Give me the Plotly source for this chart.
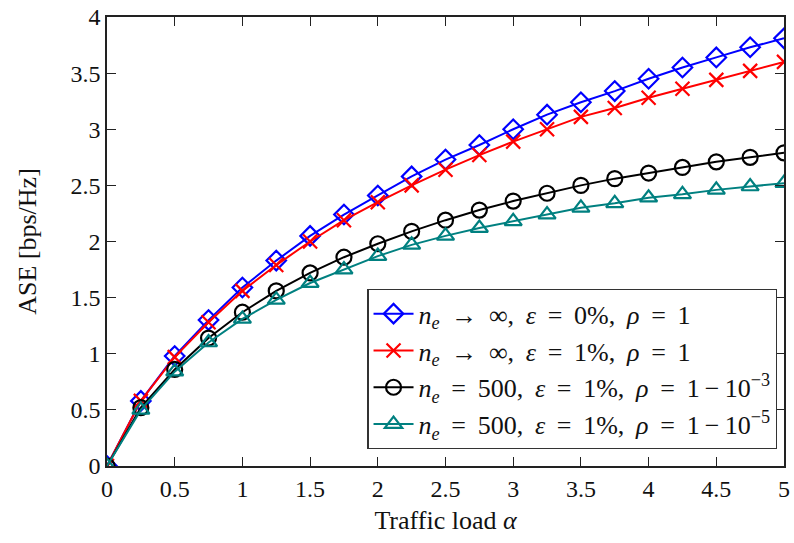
import plotly.graph_objects as go

# Traffic load values (alpha)
alpha = [0, 0.25, 0.5, 0.75, 1, 1.25, 1.5, 1.75, 2, 2.25, 2.5, 2.75, 3,
         3.25, 3.5, 3.75, 4, 4.25, 4.5, 4.75, 5]

# ASE [bps/Hz] for each configuration
ase_inf_eps0 = [0, 0.58, 0.98, 1.30, 1.59, 1.83, 2.05, 2.24, 2.41, 2.58, 2.73,
                2.86, 3.00, 3.13, 3.24, 3.34, 3.45, 3.55, 3.64, 3.73, 3.81]
ase_inf_eps1 = [0, 0.58, 0.97, 1.28, 1.56, 1.79, 2.00, 2.19, 2.35, 2.50, 2.64,
                2.77, 2.89, 3.00, 3.11, 3.19, 3.28, 3.36, 3.44, 3.52, 3.60]
ase_500_r3 = [0, 0.52, 0.86, 1.14, 1.37, 1.56, 1.72, 1.86, 1.98, 2.09, 2.19,
              2.28, 2.36, 2.43, 2.50, 2.56, 2.61, 2.66, 2.71, 2.75, 2.79]
ase_500_r5 = [0, 0.50, 0.84, 1.10, 1.31, 1.48, 1.63, 1.75, 1.87, 1.97, 2.05,
              2.12, 2.18, 2.24, 2.30, 2.34, 2.39, 2.42, 2.46, 2.49, 2.52]

# math-style spacing around relations, binary operators and after commas
R = " \u2009"   # relation gap
B = "\u2009"    # binary-operator gap
C = ", \u2009"  # comma + gap


def rel(sym):
    return f"{R}{sym}{R}"


names = [
    f"<i>n<sub>e</sub></i>{rel('→')}∞{C}<i>ε</i>{rel('=')}0%{C}<i>ρ</i>{rel('=')}1",
    f"<i>n<sub>e</sub></i>{rel('→')}∞{C}<i>ε</i>{rel('=')}1%{C}<i>ρ</i>{rel('=')}1",
    f"<i>n<sub>e</sub></i>{rel('=')}500{C}<i>ε</i>{rel('=')}1%{C}<i>ρ</i>{rel('=')}1{B}−{B}10<sup>−3</sup>",
    f"<i>n<sub>e</sub></i>{rel('=')}500{C}<i>ε</i>{rel('=')}1%{C}<i>ρ</i>{rel('=')}1{B}−{B}10<sup>−5</sup>",
]
series = [ase_inf_eps0, ase_inf_eps1, ase_500_r3, ase_500_r5]
colors = ["#0000FF", "#FF0000", "#000000", "#008080"]
symbols = ["diamond-open", "x-thin-open", "circle-open", "triangle-up-open"]
sizes = [15, 14, 15, 15]

FONT = "Liberation Serif"

fig = go.Figure()
for y, name, c, s, sz in zip(series, names, colors, symbols, sizes):
    fig.add_trace(go.Scatter(
        x=alpha, y=y, name=name, mode="lines+markers",
        line=dict(color=c, width=2),
        marker=dict(symbol=s, size=sz, color=c, line=dict(color=c, width=2.2)),
    ))

axis_common = dict(
    showgrid=False, zeroline=False, showline=True, mirror="allticks",
    linecolor="#222", linewidth=1.5, ticks="inside", ticklen=9,
    tickwidth=1.3, tickcolor="#222",
    tickfont=dict(family=FONT, size=24, color="#111"),
)

fig.update_layout(
    width=794, height=543,
    margin=dict(l=107, r=4, t=14, b=77),
    paper_bgcolor="white", plot_bgcolor="white",
    font=dict(family=FONT, color="#111"),
    xaxis=dict(range=[0, 5], tick0=0, dtick=0.5,
               title=dict(text="Traffic load <i>α</i>",
                          font=dict(family=FONT, size=26), standoff=10),
               **axis_common),
    yaxis=dict(range=[0, 4], tick0=0, dtick=0.5,
               title=dict(text="ASE [bps/Hz]",
                          font=dict(family=FONT, size=26), standoff=26),
               **axis_common),
    legend=dict(
        x=0.99, y=0.038, xanchor="right", yanchor="bottom",
        bgcolor="white", bordercolor="#333", borderwidth=1.3,
        font=dict(family=FONT, size=26, color="#111"),
        tracegroupgap=0, itemwidth=40,
    ),
    showlegend=True,
)

fig.write_html("out.html")
